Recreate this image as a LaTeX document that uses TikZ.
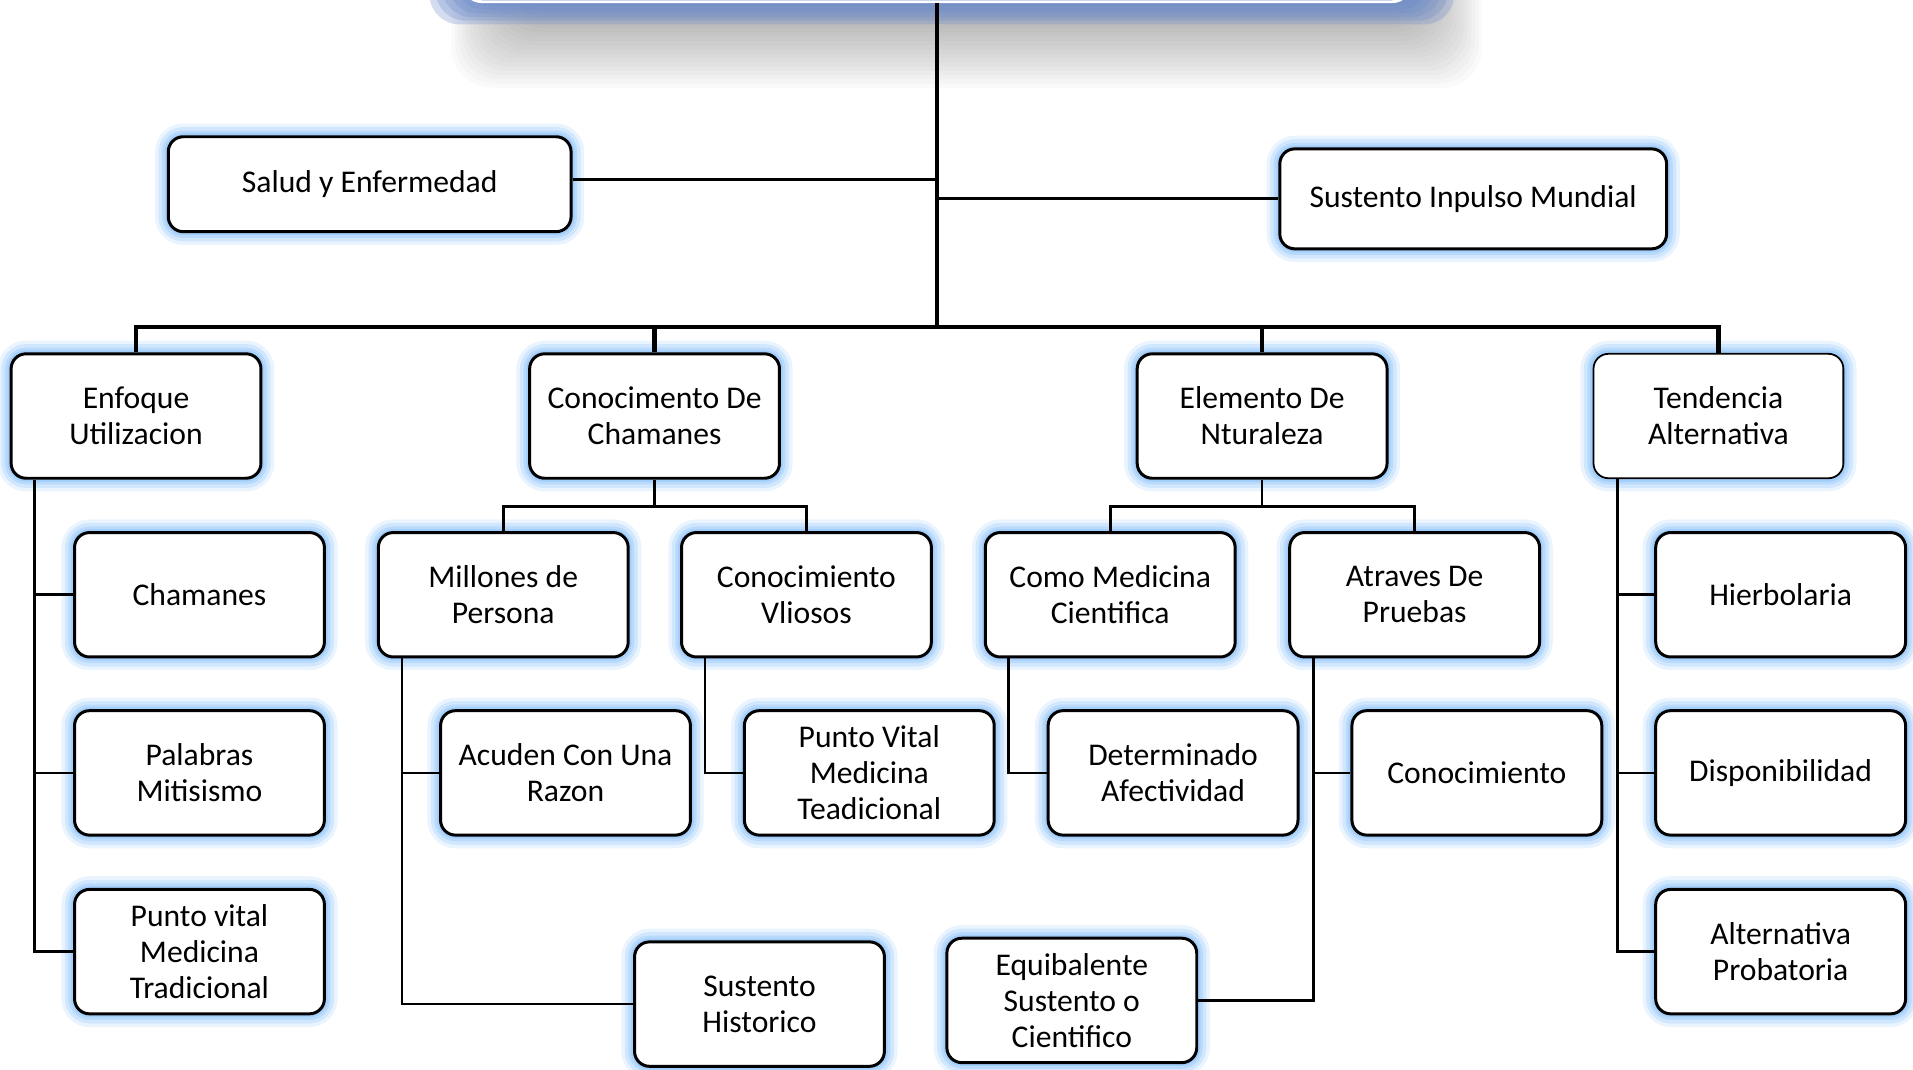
\documentclass[tikz,border=0pt]{standalone}
\usepackage{fontspec}
\setmainfont{Carlito}
\usetikzlibrary{positioning}
\definecolor{brillo}{RGB}{150,200,250}
\definecolor{azultitulo}{RGB}{112,142,203}

\begin{document}
\begin{tikzpicture}[x=0.0122cm, y=-0.0122cm,
    every node/.style={font=\fontsize{9}{10.3}\selectfont},
    caja/.style={draw, line width=0.85pt, rounded corners=0.15cm, fill=white,
        align=center, inner sep=0pt, minimum width=2.5cm, minimum height=1.245cm,
        preaction={draw=brillo, opacity=0.2, line width=7.5pt},
        preaction={draw=brillo, opacity=0.3, line width=5.5pt},
        preaction={draw=brillo, opacity=0.4, line width=3.5pt},
        preaction={draw=brillo, opacity=0.6, line width=2pt}},
    tronco/.style={line width=1.2pt},
    rama/.style={line width=0.75pt}]
    \clip (0,0) rectangle (1568,877);

    % Titulo (cortado arriba), sombra y brillo
    \foreach \i in {0,...,19}
        \fill[black, opacity=0.02, rounded corners=0.4cm]
            (370+\i*3,-60) rectangle (1215-\i*3,72-\i*3.5);
    \foreach \i in {0,...,5}
        \fill[azultitulo, opacity=0.3, rounded corners=0.3cm]
            (352+\i*5,-60) rectangle (1192-\i*5,20-\i*3);
    \node[draw=white, fill=azultitulo, line width=0.8pt, rounded corners=0.2cm,
        minimum width=9.5cm, minimum height=1.5cm] (titulo) at (768,-60) {};

    % Primer nivel
    \node[caja, minimum width=4.03cm, minimum height=0.95cm] (salud) at (303,151) {Salud y Enfermedad};
    \node[caja, minimum width=3.87cm, minimum height=1cm] (sustento) at (1207.5,163) {Sustento Inpulso Mundial};

    % Segundo nivel
    \node[caja] (enfoque) at (111.5,341) {Enfoque\\Utilizacion};
    \node[caja] (conocimento) at (536.5,341) {Conocimento De\\Chamanes};
    \node[caja] (elemento) at (1034.5,341) {Elemento De\\Nturaleza};
    \node[caja, line width=0.5pt] (tendencia) at (1408.5,341) {Tendencia\\Alternativa};

    % Tercer nivel
    \node[caja] (chamanes) at (163.5,487.5) {Chamanes};
    \node[caja] (palabras) at (163.5,633.5) {Palabras\\Mitisismo};
    \node[caja] (puntotrad) at (163.5,780) {Punto vital\\Medicina\\Tradicional};

    \node[caja] (millones) at (412.5,487.5) {Millones de\\Persona};
    \node[caja] (acuden) at (463.5,633.5) {Acuden Con Una\\Razon};
    \node[caja] (historico) at (622.5,823) {Sustento\\Historico};
    \node[caja] (vliosos) at (661,487.5) {Conocimiento\\Vliosos};
    \node[caja] (puntovital) at (712.5,633.5) {Punto Vital\\Medicina\\Teadicional};

    \node[caja] (comomedicina) at (910,487.5) {Como Medicina\\Cientifica};
    \node[caja] (determinado) at (961.5,633.5) {Determinado\\Afectividad};
    \node[caja] (atraves) at (1159.5,487.5) {Atraves De\\Pruebas};
    \node[caja] (conocimiento) at (1210.5,633.5) {Conocimiento};
    \node[caja] (equibalente) at (878.5,820) {Equibalente\\Sustento o\\Cientifico};

    \node[caja] (hierbolaria) at (1459.5,487.5) {Hierbolaria};
    \node[caja] (disponibilidad) at (1459.5,633.5) {Disponibilidad};
    \node[caja] (probatoria) at (1459.5,780) {Alternativa\\Probatoria};

    % Tronco y barra principal
    \coordinate (bus) at (768,268);
    \draw[tronco] (titulo.south) -- (bus);
    \draw[tronco] (enfoque.north) |- (bus) -| (tendencia.north);
    \draw[tronco] (conocimento.north) -- (conocimento.north |- bus);
    \draw[tronco] (elemento.north) -- (elemento.north |- bus);
    \draw[line width=0.9pt] ([yshift=0.05cm]salud.east) -- ([yshift=0.05cm]salud.east -| bus);
    \draw[line width=0.9pt] (sustento.west) -- (sustento.west -| bus);

    % Ramas
    \draw[rama] ([xshift=0.25cm]enfoque.south west) |- (chamanes.west);
    \draw[rama] ([xshift=0.25cm]enfoque.south west) |- (palabras.west);
    \draw[rama] ([xshift=0.25cm]enfoque.south west) |- (puntotrad.west);

    \draw[rama] (conocimento.south) -- ++(0,22) -| (millones.north);
    \draw[rama] (conocimento.south) -- ++(0,22) -| (vliosos.north);
    \draw[rama] ([xshift=0.25cm]millones.south west) |- (acuden.west);
    \draw[rama] ([xshift=0.25cm]millones.south west) |- (historico.west);
    \draw[rama] ([xshift=0.25cm]vliosos.south west) |- (puntovital.west);

    \draw[rama] (elemento.south) -- ++(0,22) -| (comomedicina.north);
    \draw[rama] (elemento.south) -- ++(0,22) -| (atraves.north);
    \draw[rama] ([xshift=0.25cm]comomedicina.south west) |- (determinado.west);
    \draw[rama] ([xshift=0.25cm]atraves.south west) |- (conocimiento.west);
    \draw[rama] ([xshift=0.25cm]atraves.south west) |- (equibalente.east);

    \draw[rama] ([xshift=0.25cm]tendencia.south west) |- (hierbolaria.west);
    \draw[rama] ([xshift=0.25cm]tendencia.south west) |- (disponibilidad.west);
    \draw[rama] ([xshift=0.25cm]tendencia.south west) |- (probatoria.west);
\end{tikzpicture}
\end{document}
